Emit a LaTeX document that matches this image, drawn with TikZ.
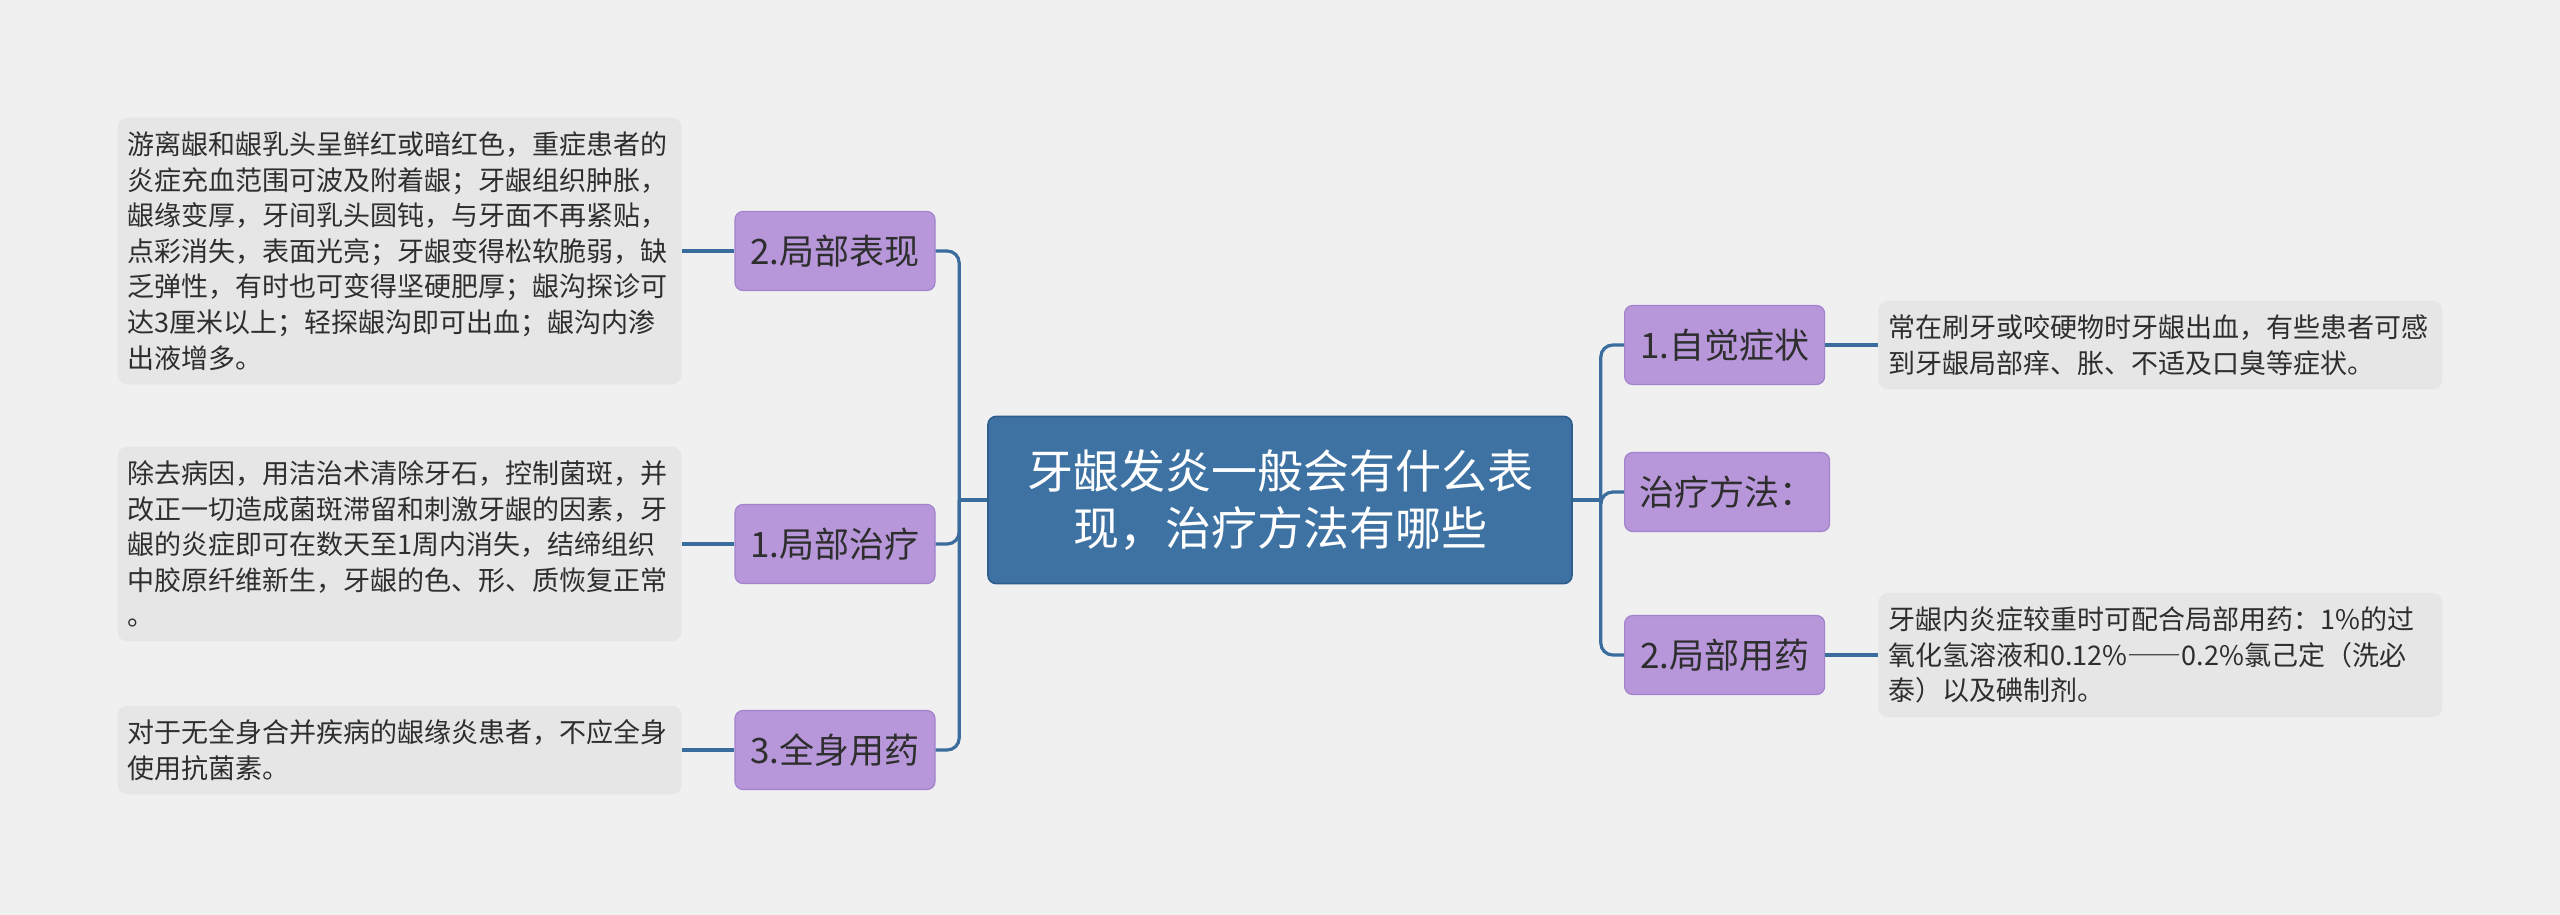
\documentclass[tikz,border=0pt]{standalone}
\usepackage{fontspec}
\setmainfont{Noto Sans CJK SC}
\usepackage{xcolor}
\usepackage{tikz}
\usetikzlibrary{positioning}

\definecolor{bgcol}{HTML}{F0F0F0}
\definecolor{rootcol}{HTML}{3D72A3}
\definecolor{rootline}{HTML}{2F5E8C}
\definecolor{subcol}{HTML}{B797DA}
\definecolor{subline}{HTML}{A283CC}
\definecolor{leafcol}{HTML}{E6E6E6}
\definecolor{linkcol}{HTML}{3A6D9E}
\definecolor{txtcol}{HTML}{2E2E2E}

\begin{document}
\begin{tikzpicture}[x=0.5pt, y=-0.5pt,
  root/.style={draw=rootline, line width=0.8pt, fill=rootcol, rounded corners=4pt,
    text=white, font=\fontsize{23}{28.5}\selectfont, align=center,
    minimum width=292pt, minimum height=83.5pt},
  sub/.style={draw=subline, line width=0.6pt, fill=subcol, rounded corners=4pt,
    text=txtcol, font=\fontsize{17.5}{20}\selectfont,
    minimum width=100pt, minimum height=39.5pt, inner xsep=7.5pt},
  leaf/.style={fill=leafcol, rounded corners=5pt, text=txtcol,
    font=\fontsize{13.5}{17.8}\selectfont, text width=272pt, align=left,
    inner xsep=5pt, inner ysep=7pt},
  link/.style={draw=linkcol, line width=1.6pt, rounded corners=6pt}]

% Background
\fill[bgcol] (0,0) rectangle (2560,915);
\useasboundingbox (0,0) rectangle (2560,915);

% Root
\node[root] (c) at (1280,500) {牙龈发炎一般会有什么表\\现，治疗方法有哪些};
\coordinate[left=14pt of c] (lj);
\coordinate[right=14pt of c] (rj);

% Left branches
\node[sub] (l2) at (835,251) {2.局部表现};
\node[sub] (l1) at (835,544) {1.局部治疗};
\node[sub] (l3) at (835,750) {3.全身用药};

% Right branches
\node[sub, anchor=west] (r1) at (1624,345) {1.自觉症状};
\node[sub, anchor=west] (r0) at (1624,492) {治疗方法：};
\node[sub, anchor=west] (r2) at (1624,655) {2.局部用药};

% Left leaves
\node[leaf, anchor=east] (t2) at (682,251) {游离龈和龈乳头呈鲜红或暗红色，重症患者的\\
  炎症充血范围可波及附着龈；牙龈组织肿胀，\\
  龈缘变厚，牙间乳头圆钝，与牙面不再紧贴，\\
  点彩消失，表面光亮；牙龈变得松软脆弱，缺\\
  乏弹性，有时也可变得坚硬肥厚；龈沟探诊可\\
  达3厘米以上；轻探龈沟即可出血；龈沟内渗\\
  出液增多。};
\node[leaf, anchor=east] (t1) at (682,544) {除去病因，用洁治术清除牙石，控制菌斑，并\\
  改正一切造成菌斑滞留和刺激牙龈的因素，牙\\
  龈的炎症即可在数天至1周内消失，结缔组织\\
  中胶原纤维新生，牙龈的色、形、质恢复正常\\
  。};
\node[leaf, anchor=east] (t3) at (682,750) {对于无全身合并疾病的龈缘炎患者，不应全身\\
  使用抗菌素。};

% Right leaves
\node[leaf, anchor=west] (s1) at (1878,345) {常在刷牙或咬硬物时牙龈出血，有些患者可感\\
  到牙龈局部痒、胀、不适及口臭等症状。};
\node[leaf, anchor=west] (s2) at (1878,655) {牙龈内炎症较重时可配合局部用药：1\%的过\\
  氧化氢溶液和0.12\%{\addfontfeature{RawFeature=+fwid}——}0.2\%氯己定（洗必\\
  泰）以及碘制剂。};

% Trunk links
\draw[link] (c.west) -- (lj);
\draw[link] (c.east) -- (rj);
\draw[link] (lj) |- (l2.east);
\draw[link] (lj) |- (l1.east);
\draw[link] (lj) |- (l3.east);
\draw[link] (rj) |- (r1.west);
\draw[link] (rj) |- (r0.west);
\draw[link] (rj) |- (r2.west);

% Leaf links
\draw[link] (t2.east) -- (l2.west);
\draw[link] (t1.east) -- (l1.west);
\draw[link] (t3.east) -- (l3.west);
\draw[link] (r1.east) -- (s1.west);
\draw[link] (r2.east) -- (s2.west);

\end{tikzpicture}
\end{document}
